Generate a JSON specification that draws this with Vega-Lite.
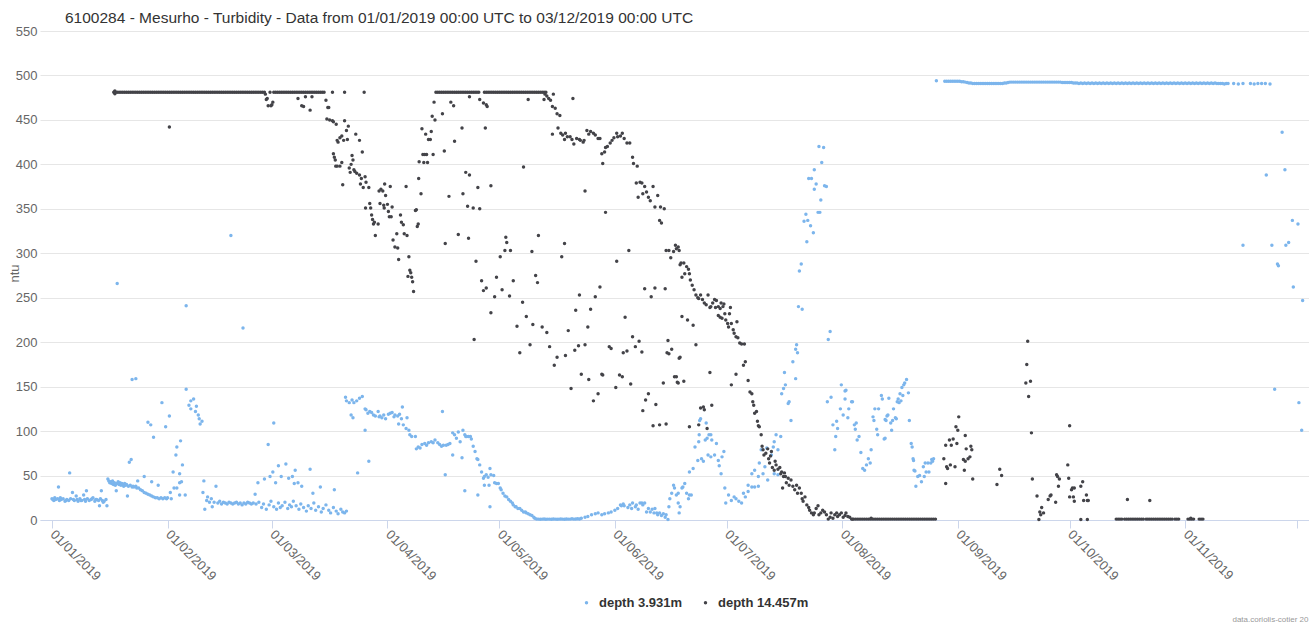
{
"$schema": "https://vega.github.io/schema/vega-lite/v6.json",
"width": 1269, "height": 489,
"autosize": {"type": "none"},
"padding": {"left": 40, "top": 31, "right": 0, "bottom": 104},
"background": "white",
"title": {"text": "6100284 - Mesurho - Turbidity - Data from 01/01/2019 00:00 UTC to 03/12/2019 00:00 UTC", "anchor": "start", "frame": "group", "dx": 25, "offset": -1, "fontSize": 15.5, "font": "Liberation Sans", "fontWeight": "normal", "color": "#333333"},
"datasets": {
"s": [
{"t":"2019-01-01T00:00Z","v":24},{"t":"2019-01-01T06:00Z","v":23},{"t":"2019-01-01T12:00Z","v":22},{"t":"2019-01-01T18:00Z","v":25},{"t":"2019-01-02T00:00Z","v":23},{"t":"2019-01-02T12:00Z","v":24},{"t":"2019-01-02T18:00Z","v":37},{"t":"2019-01-03T00:00Z","v":22},{"t":"2019-01-03T06:00Z","v":25},{"t":"2019-01-03T12:00Z","v":23},{"t":"2019-01-04T00:00Z","v":24},{"t":"2019-01-04T12:00Z","v":21},{"t":"2019-01-04T18:00Z","v":22},{"t":"2019-01-05T00:00Z","v":23},{"t":"2019-01-05T12:00Z","v":22},{"t":"2019-01-05T18:00Z","v":53},{"t":"2019-01-06T00:00Z","v":24},{"t":"2019-01-06T12:00Z","v":31},{"t":"2019-01-06T18:00Z","v":23},{"t":"2019-01-07T00:00Z","v":22},{"t":"2019-01-07T12:00Z","v":27},{"t":"2019-01-07T18:00Z","v":23},{"t":"2019-01-08T00:00Z","v":21},{"t":"2019-01-08T12:00Z","v":24},{"t":"2019-01-08T18:00Z","v":22},{"t":"2019-01-09T00:00Z","v":22},{"t":"2019-01-09T12:00Z","v":28},{"t":"2019-01-09T18:00Z","v":23},{"t":"2019-01-10T00:00Z","v":21},{"t":"2019-01-10T06:00Z","v":33},{"t":"2019-01-10T12:00Z","v":24},{"t":"2019-01-11T00:00Z","v":22},{"t":"2019-01-11T12:00Z","v":23},{"t":"2019-01-11T18:00Z","v":24},{"t":"2019-01-12T00:00Z","v":25},{"t":"2019-01-12T12:00Z","v":21},{"t":"2019-01-12T18:00Z","v":23},{"t":"2019-01-13T00:00Z","v":23},{"t":"2019-01-13T12:00Z","v":22},{"t":"2019-01-13T18:00Z","v":16},{"t":"2019-01-14T00:00Z","v":24},{"t":"2019-01-14T06:00Z","v":33},{"t":"2019-01-14T12:00Z","v":22},{"t":"2019-01-14T18:00Z","v":20},{"t":"2019-01-15T00:00Z","v":21},{"t":"2019-01-15T12:00Z","v":23},{"t":"2019-01-15T18:00Z","v":16},
{"t":"2019-01-16T00:00Z","v":46},{"t":"2019-01-16T06:00Z","v":44},{"t":"2019-01-16T12:00Z","v":42},{"t":"2019-01-16T18:00Z","v":43},{"t":"2019-01-17T00:00Z","v":41},{"t":"2019-01-17T06:00Z","v":44},{"t":"2019-01-17T12:00Z","v":40},{"t":"2019-01-17T18:00Z","v":42},{"t":"2019-01-18T00:00Z","v":39},{"t":"2019-01-18T06:00Z","v":33},{"t":"2019-01-18T12:00Z","v":41},{"t":"2019-01-18T12:00Z","v":266},{"t":"2019-01-18T18:00Z","v":43},{"t":"2019-01-19T00:00Z","v":40},{"t":"2019-01-19T06:00Z","v":42},{"t":"2019-01-19T12:00Z","v":39},{"t":"2019-01-19T18:00Z","v":41},{"t":"2019-01-20T00:00Z","v":40},{"t":"2019-01-20T06:00Z","v":38},{"t":"2019-01-20T12:00Z","v":41},{"t":"2019-01-20T18:00Z","v":39},{"t":"2019-01-21T00:00Z","v":40},{"t":"2019-01-21T06:00Z","v":27},{"t":"2019-01-21T12:00Z","v":38},{"t":"2019-01-21T18:00Z","v":65},{"t":"2019-01-22T00:00Z","v":39},{"t":"2019-01-22T06:00Z","v":68},{"t":"2019-01-22T12:00Z","v":158},{"t":"2019-01-22T12:00Z","v":37},{"t":"2019-01-22T18:00Z","v":38},{"t":"2019-01-23T00:00Z","v":37},{"t":"2019-01-23T12:00Z","v":159},{"t":"2019-01-23T12:00Z","v":38},{"t":"2019-01-23T18:00Z","v":36},{"t":"2019-01-24T00:00Z","v":44},{"t":"2019-01-24T06:00Z","v":36},{"t":"2019-01-24T18:00Z","v":34},{"t":"2019-01-25T06:00Z","v":33},{"t":"2019-01-25T18:00Z","v":49},{"t":"2019-01-25T18:00Z","v":31},{"t":"2019-01-26T06:00Z","v":30},{"t":"2019-01-26T18:00Z","v":110},{"t":"2019-01-26T18:00Z","v":29},{"t":"2019-01-27T06:00Z","v":28},{"t":"2019-01-27T12:00Z","v":107},{"t":"2019-01-27T18:00Z","v":27},{"t":"2019-01-27T18:00Z","v":43},{"t":"2019-01-28T06:00Z","v":93},{"t":"2019-01-28T06:00Z","v":26},{"t":"2019-01-28T18:00Z","v":25},{"t":"2019-01-29T06:00Z","v":25},{"t":"2019-01-29T12:00Z","v":39},{"t":"2019-01-29T18:00Z","v":24},{"t":"2019-01-30T06:00Z","v":25},{"t":"2019-01-30T12:00Z","v":132},{"t":"2019-01-30T18:00Z","v":24},{"t":"2019-01-31T06:00Z","v":25},{"t":"2019-01-31T12:00Z","v":105},{"t":"2019-01-31T18:00Z","v":24},
{"t":"2019-02-01T00:00Z","v":25},{"t":"2019-02-01T12:00Z","v":117},{"t":"2019-02-01T18:00Z","v":31},{"t":"2019-02-02T00:00Z","v":24},{"t":"2019-02-02T12:00Z","v":54},{"t":"2019-02-02T18:00Z","v":36},{"t":"2019-02-03T06:00Z","v":73},{"t":"2019-02-03T12:00Z","v":82},{"t":"2019-02-03T12:00Z","v":36},{"t":"2019-02-04T06:00Z","v":52},{"t":"2019-02-04T06:00Z","v":42},{"t":"2019-02-04T06:00Z","v":28},{"t":"2019-02-04T12:00Z","v":89},{"t":"2019-02-04T18:00Z","v":43},{"t":"2019-02-05T00:00Z","v":62},{"t":"2019-02-05T18:00Z","v":28},{"t":"2019-02-06T00:00Z","v":147},{"t":"2019-02-06T00:00Z","v":241},{"t":"2019-02-06T18:00Z","v":129},{"t":"2019-02-07T06:00Z","v":125},{"t":"2019-02-07T06:00Z","v":134},{"t":"2019-02-08T00:00Z","v":136},{"t":"2019-02-08T12:00Z","v":122},{"t":"2019-02-08T18:00Z","v":128},{"t":"2019-02-09T06:00Z","v":118},{"t":"2019-02-09T12:00Z","v":114},{"t":"2019-02-09T18:00Z","v":108},{"t":"2019-02-10T06:00Z","v":111},{"t":"2019-02-10T12:00Z","v":31},{"t":"2019-02-10T18:00Z","v":44},{"t":"2019-02-11T00:00Z","v":12},{"t":"2019-02-11T12:00Z","v":22},{"t":"2019-02-11T18:00Z","v":26},{"t":"2019-02-12T06:00Z","v":20},{"t":"2019-02-12T18:00Z","v":24},{"t":"2019-02-13T00:00Z","v":15},{"t":"2019-02-13T12:00Z","v":20},{"t":"2019-02-14T00:00Z","v":38},{"t":"2019-02-14T12:00Z","v":19},{"t":"2019-02-15T00:00Z","v":21},{"t":"2019-02-15T12:00Z","v":18},{"t":"2019-02-16T00:00Z","v":20},{"t":"2019-02-16T12:00Z","v":19},{"t":"2019-02-17T00:00Z","v":18},{"t":"2019-02-17T12:00Z","v":20},{"t":"2019-02-18T00:00Z","v":19},{"t":"2019-02-18T00:00Z","v":320},{"t":"2019-02-18T12:00Z","v":18},{"t":"2019-02-19T00:00Z","v":19},{"t":"2019-02-19T12:00Z","v":20},{"t":"2019-02-20T00:00Z","v":18},{"t":"2019-02-20T12:00Z","v":19},{"t":"2019-02-21T00:00Z","v":17},{"t":"2019-02-21T06:00Z","v":216},{"t":"2019-02-21T12:00Z","v":19},{"t":"2019-02-22T00:00Z","v":18},{"t":"2019-02-22T12:00Z","v":20},{"t":"2019-02-23T00:00Z","v":19},{"t":"2019-02-23T12:00Z","v":18},{"t":"2019-02-24T00:00Z","v":19},{"t":"2019-02-24T12:00Z","v":29},{"t":"2019-02-24T18:00Z","v":18},{"t":"2019-02-25T06:00Z","v":42},{"t":"2019-02-25T12:00Z","v":20},{"t":"2019-02-26T06:00Z","v":14},{"t":"2019-02-26T18:00Z","v":18},{"t":"2019-02-27T00:00Z","v":46},{"t":"2019-02-27T12:00Z","v":12},{"t":"2019-02-28T00:00Z","v":85},{"t":"2019-02-28T06:00Z","v":17},{"t":"2019-02-28T12:00Z","v":49},{"t":"2019-02-28T18:00Z","v":21},
{"t":"2019-03-01T06:00Z","v":54},{"t":"2019-03-01T12:00Z","v":15},{"t":"2019-03-01T12:00Z","v":109},{"t":"2019-03-02T00:00Z","v":42},{"t":"2019-03-02T06:00Z","v":12},{"t":"2019-03-02T18:00Z","v":19},{"t":"2019-03-02T18:00Z","v":61},{"t":"2019-03-03T06:00Z","v":14},{"t":"2019-03-03T12:00Z","v":49},{"t":"2019-03-03T18:00Z","v":16},{"t":"2019-03-04T12:00Z","v":20},{"t":"2019-03-04T18:00Z","v":63},{"t":"2019-03-05T06:00Z","v":13},{"t":"2019-03-05T12:00Z","v":47},{"t":"2019-03-05T18:00Z","v":17},{"t":"2019-03-06T06:00Z","v":15},{"t":"2019-03-06T12:00Z","v":49},{"t":"2019-03-06T18:00Z","v":21},{"t":"2019-03-07T00:00Z","v":41},{"t":"2019-03-07T06:00Z","v":56},{"t":"2019-03-07T12:00Z","v":16},{"t":"2019-03-08T00:00Z","v":42},{"t":"2019-03-08T06:00Z","v":12},{"t":"2019-03-08T18:00Z","v":18},{"t":"2019-03-09T00:00Z","v":38},{"t":"2019-03-09T12:00Z","v":14},{"t":"2019-03-10T06:00Z","v":10},{"t":"2019-03-10T18:00Z","v":16},{"t":"2019-03-11T06:00Z","v":57},{"t":"2019-03-11T12:00Z","v":13},{"t":"2019-03-12T00:00Z","v":30},{"t":"2019-03-12T06:00Z","v":19},{"t":"2019-03-12T18:00Z","v":11},{"t":"2019-03-13T12:00Z","v":15},{"t":"2019-03-14T00:00Z","v":37},{"t":"2019-03-14T06:00Z","v":9},{"t":"2019-03-14T18:00Z","v":13},{"t":"2019-03-15T12:00Z","v":17},{"t":"2019-03-16T06:00Z","v":11},{"t":"2019-03-16T18:00Z","v":8},{"t":"2019-03-17T12:00Z","v":14},{"t":"2019-03-17T18:00Z","v":34},{"t":"2019-03-18T06:00Z","v":10},{"t":"2019-03-18T18:00Z","v":7},{"t":"2019-03-19T12:00Z","v":12},{"t":"2019-03-20T00:00Z","v":9},{"t":"2019-03-20T12:00Z","v":8},{"t":"2019-03-20T18:00Z","v":138},{"t":"2019-03-21T00:00Z","v":10},{"t":"2019-03-21T00:00Z","v":134},{"t":"2019-03-21T18:00Z","v":132},{"t":"2019-03-22T06:00Z","v":118},{"t":"2019-03-22T12:00Z","v":135},{"t":"2019-03-22T18:00Z","v":115},{"t":"2019-03-23T00:00Z","v":132},{"t":"2019-03-23T18:00Z","v":134},{"t":"2019-03-24T00:00Z","v":53},{"t":"2019-03-24T12:00Z","v":137},{"t":"2019-03-25T06:00Z","v":139},{"t":"2019-03-26T00:00Z","v":125},{"t":"2019-03-26T00:00Z","v":101},{"t":"2019-03-26T06:00Z","v":124},{"t":"2019-03-26T18:00Z","v":120},{"t":"2019-03-27T00:00Z","v":66},{"t":"2019-03-27T06:00Z","v":122},{"t":"2019-03-27T18:00Z","v":121},{"t":"2019-03-28T06:00Z","v":118},{"t":"2019-03-28T18:00Z","v":117},{"t":"2019-03-29T12:00Z","v":122},{"t":"2019-03-29T18:00Z","v":116},{"t":"2019-03-30T00:00Z","v":117},{"t":"2019-03-30T12:00Z","v":115},{"t":"2019-03-31T00:00Z","v":118},{"t":"2019-03-31T12:00Z","v":114},
{"t":"2019-04-01T06:00Z","v":119},{"t":"2019-04-01T18:00Z","v":120},{"t":"2019-04-02T06:00Z","v":121},{"t":"2019-04-02T18:00Z","v":116},{"t":"2019-04-03T00:00Z","v":118},{"t":"2019-04-03T18:00Z","v":117},{"t":"2019-04-04T00:00Z","v":108},{"t":"2019-04-04T06:00Z","v":119},{"t":"2019-04-04T18:00Z","v":114},{"t":"2019-04-05T00:00Z","v":127},{"t":"2019-04-05T06:00Z","v":107},{"t":"2019-04-06T00:00Z","v":103},{"t":"2019-04-06T06:00Z","v":115},{"t":"2019-04-06T18:00Z","v":101},{"t":"2019-04-07T00:00Z","v":96},{"t":"2019-04-07T12:00Z","v":94},{"t":"2019-04-08T12:00Z","v":94},{"t":"2019-04-08T18:00Z","v":80},{"t":"2019-04-09T06:00Z","v":82},{"t":"2019-04-09T18:00Z","v":81},{"t":"2019-04-10T06:00Z","v":85},{"t":"2019-04-11T00:00Z","v":86},{"t":"2019-04-11T12:00Z","v":84},{"t":"2019-04-12T00:00Z","v":87},{"t":"2019-04-12T18:00Z","v":88},{"t":"2019-04-13T06:00Z","v":87},{"t":"2019-04-13T18:00Z","v":90},{"t":"2019-04-14T12:00Z","v":87},{"t":"2019-04-15T00:00Z","v":85},{"t":"2019-04-15T12:00Z","v":83},{"t":"2019-04-15T18:00Z","v":122},{"t":"2019-04-16T00:00Z","v":84},{"t":"2019-04-16T12:00Z","v":51},{"t":"2019-04-16T18:00Z","v":84},{"t":"2019-04-17T06:00Z","v":85},{"t":"2019-04-17T18:00Z","v":86},{"t":"2019-04-18T12:00Z","v":98},{"t":"2019-04-18T12:00Z","v":73},{"t":"2019-04-19T00:00Z","v":96},{"t":"2019-04-19T12:00Z","v":92},{"t":"2019-04-20T00:00Z","v":99},{"t":"2019-04-20T12:00Z","v":88},{"t":"2019-04-21T00:00Z","v":70},{"t":"2019-04-21T06:00Z","v":101},{"t":"2019-04-21T18:00Z","v":96},{"t":"2019-04-21T18:00Z","v":33},{"t":"2019-04-22T00:00Z","v":94},{"t":"2019-04-22T06:00Z","v":94},{"t":"2019-04-22T18:00Z","v":94},{"t":"2019-04-23T06:00Z","v":94},{"t":"2019-04-23T12:00Z","v":91},{"t":"2019-04-24T00:00Z","v":83},{"t":"2019-04-24T12:00Z","v":77},{"t":"2019-04-25T00:00Z","v":69},{"t":"2019-04-25T06:00Z","v":68},{"t":"2019-04-25T06:00Z","v":28},{"t":"2019-04-25T18:00Z","v":62},{"t":"2019-04-26T06:00Z","v":54},{"t":"2019-04-26T18:00Z","v":47},{"t":"2019-04-27T00:00Z","v":49},{"t":"2019-04-27T00:00Z","v":39},{"t":"2019-04-27T12:00Z","v":51},{"t":"2019-04-28T00:00Z","v":48},{"t":"2019-04-28T06:00Z","v":39},{"t":"2019-04-28T12:00Z","v":58},{"t":"2019-04-28T12:00Z","v":15},{"t":"2019-04-28T18:00Z","v":51},{"t":"2019-04-29T12:00Z","v":50},{"t":"2019-04-29T18:00Z","v":42},{"t":"2019-04-30T06:00Z","v":41},{"t":"2019-04-30T18:00Z","v":41},
{"t":"2019-05-01T06:00Z","v":36},{"t":"2019-05-01T12:00Z","v":34},{"t":"2019-05-02T00:00Z","v":30},{"t":"2019-05-02T12:00Z","v":27},{"t":"2019-05-03T00:00Z","v":26},{"t":"2019-05-03T12:00Z","v":23},{"t":"2019-05-04T00:00Z","v":21},{"t":"2019-05-04T12:00Z","v":19},{"t":"2019-05-04T18:00Z","v":17},{"t":"2019-05-05T06:00Z","v":15},{"t":"2019-05-05T12:00Z","v":15},{"t":"2019-05-06T00:00Z","v":13},{"t":"2019-05-06T12:00Z","v":13},{"t":"2019-05-07T00:00Z","v":11},{"t":"2019-05-07T12:00Z","v":9},{"t":"2019-05-08T00:00Z","v":9},{"t":"2019-05-08T06:00Z","v":8},{"t":"2019-05-08T18:00Z","v":7},{"t":"2019-05-09T06:00Z","v":6},{"t":"2019-05-09T18:00Z","v":5},{"t":"2019-05-10T06:00Z","v":3},{"t":"2019-05-10T12:00Z","v":2},{"t":"2019-05-11T00:00Z","v":1.2},{"t":"2019-05-11T12:00Z","v":1},{"t":"2019-05-12T00:00Z","v":0.8},{"t":"2019-05-12T12:00Z","v":1},{"t":"2019-05-13T00:00Z","v":1.2},{"t":"2019-05-13T12:00Z","v":0.8},{"t":"2019-05-14T00:00Z","v":1},{"t":"2019-05-14T12:00Z","v":1},{"t":"2019-05-15T00:00Z","v":0.8},{"t":"2019-05-15T12:00Z","v":1.2},{"t":"2019-05-16T00:00Z","v":1},{"t":"2019-05-16T12:00Z","v":0.8},{"t":"2019-05-17T00:00Z","v":1},{"t":"2019-05-17T12:00Z","v":1.2},{"t":"2019-05-18T00:00Z","v":1},{"t":"2019-05-18T12:00Z","v":0.8},{"t":"2019-05-19T00:00Z","v":1.2},{"t":"2019-05-19T12:00Z","v":1},{"t":"2019-05-20T00:00Z","v":1},{"t":"2019-05-20T12:00Z","v":1.5},{"t":"2019-05-21T00:00Z","v":1},{"t":"2019-05-21T12:00Z","v":1.2},{"t":"2019-05-22T00:00Z","v":1.5},{"t":"2019-05-22T12:00Z","v":1.2},{"t":"2019-05-23T00:00Z","v":2},{"t":"2019-05-24T00:00Z","v":3},{"t":"2019-05-24T18:00Z","v":4},{"t":"2019-05-25T18:00Z","v":6},{"t":"2019-05-26T18:00Z","v":7},{"t":"2019-05-27T12:00Z","v":8},{"t":"2019-05-28T12:00Z","v":6},{"t":"2019-05-29T06:00Z","v":7},{"t":"2019-05-30T06:00Z","v":8},{"t":"2019-05-31T00:00Z","v":9},
{"t":"2019-06-01T00:00Z","v":11},{"t":"2019-06-01T18:00Z","v":13},{"t":"2019-06-02T12:00Z","v":17},{"t":"2019-06-02T18:00Z","v":16},{"t":"2019-06-03T06:00Z","v":18},{"t":"2019-06-03T12:00Z","v":16},{"t":"2019-06-04T12:00Z","v":14},{"t":"2019-06-05T00:00Z","v":17},{"t":"2019-06-05T12:00Z","v":13},{"t":"2019-06-05T18:00Z","v":19},{"t":"2019-06-06T12:00Z","v":15},{"t":"2019-06-06T18:00Z","v":17},{"t":"2019-06-07T06:00Z","v":12},{"t":"2019-06-07T18:00Z","v":19},{"t":"2019-06-08T06:00Z","v":19},{"t":"2019-06-08T12:00Z","v":17},{"t":"2019-06-09T00:00Z","v":19},{"t":"2019-06-09T12:00Z","v":9},{"t":"2019-06-10T00:00Z","v":13},{"t":"2019-06-10T12:00Z","v":9},{"t":"2019-06-11T00:00Z","v":12},{"t":"2019-06-11T12:00Z","v":8},{"t":"2019-06-11T18:00Z","v":13},{"t":"2019-06-12T06:00Z","v":8},{"t":"2019-06-12T12:00Z","v":6},{"t":"2019-06-13T00:00Z","v":8},{"t":"2019-06-13T12:00Z","v":5},{"t":"2019-06-14T00:00Z","v":7},{"t":"2019-06-14T12:00Z","v":3},{"t":"2019-06-14T18:00Z","v":6},{"t":"2019-06-15T06:00Z","v":0.5},{"t":"2019-06-15T12:00Z","v":15},{"t":"2019-06-15T18:00Z","v":24},{"t":"2019-06-16T06:00Z","v":30},{"t":"2019-06-16T18:00Z","v":39},{"t":"2019-06-17T00:00Z","v":36},{"t":"2019-06-17T12:00Z","v":28},{"t":"2019-06-18T00:00Z","v":19},{"t":"2019-06-18T00:00Z","v":30},{"t":"2019-06-18T06:00Z","v":8},{"t":"2019-06-18T12:00Z","v":15},{"t":"2019-06-19T00:00Z","v":36},{"t":"2019-06-19T06:00Z","v":37},{"t":"2019-06-19T18:00Z","v":41},{"t":"2019-06-20T06:00Z","v":30},{"t":"2019-06-20T18:00Z","v":24},{"t":"2019-06-21T00:00Z","v":28},{"t":"2019-06-21T00:00Z","v":54},{"t":"2019-06-21T12:00Z","v":28},{"t":"2019-06-22T00:00Z","v":58},{"t":"2019-06-22T12:00Z","v":82},{"t":"2019-06-23T06:00Z","v":67},{"t":"2019-06-23T12:00Z","v":88},{"t":"2019-06-23T15:00Z","v":96},{"t":"2019-06-23T18:00Z","v":112},{"t":"2019-06-24T00:00Z","v":114},{"t":"2019-06-24T06:00Z","v":69},{"t":"2019-06-24T18:00Z","v":66},{"t":"2019-06-25T06:00Z","v":90},{"t":"2019-06-25T12:00Z","v":109},{"t":"2019-06-25T18:00Z","v":92},{"t":"2019-06-26T00:00Z","v":73},{"t":"2019-06-26T06:00Z","v":96},{"t":"2019-06-26T18:00Z","v":96},{"t":"2019-06-26T18:00Z","v":71},{"t":"2019-06-27T00:00Z","v":90},{"t":"2019-06-27T18:00Z","v":73},{"t":"2019-06-28T06:00Z","v":86},{"t":"2019-06-28T18:00Z","v":67},{"t":"2019-06-29T00:00Z","v":61},{"t":"2019-06-29T12:00Z","v":52},{"t":"2019-06-29T18:00Z","v":71},{"t":"2019-06-30T06:00Z","v":77},{"t":"2019-06-30T12:00Z","v":36},{"t":"2019-06-30T18:00Z","v":19},
{"t":"2019-07-01T12:00Z","v":28},{"t":"2019-07-02T06:00Z","v":22},{"t":"2019-07-03T00:00Z","v":26},{"t":"2019-07-03T12:00Z","v":24},{"t":"2019-07-04T06:00Z","v":21},{"t":"2019-07-05T00:00Z","v":19},{"t":"2019-07-05T12:00Z","v":30},{"t":"2019-07-06T00:00Z","v":26},{"t":"2019-07-06T18:00Z","v":32},{"t":"2019-07-06T18:00Z","v":39},{"t":"2019-07-07T18:00Z","v":37},{"t":"2019-07-07T18:00Z","v":52},{"t":"2019-07-08T12:00Z","v":37},{"t":"2019-07-08T12:00Z","v":56},{"t":"2019-07-09T12:00Z","v":38},{"t":"2019-07-09T12:00Z","v":49},{"t":"2019-07-09T18:00Z","v":64},{"t":"2019-07-10T06:00Z","v":79},{"t":"2019-07-10T18:00Z","v":52},{"t":"2019-07-11T06:00Z","v":60},{"t":"2019-07-11T18:00Z","v":81},{"t":"2019-07-12T00:00Z","v":45},{"t":"2019-07-13T00:00Z","v":73},{"t":"2019-07-13T12:00Z","v":82},{"t":"2019-07-13T18:00Z","v":88},{"t":"2019-07-13T18:00Z","v":52},{"t":"2019-07-14T06:00Z","v":96},{"t":"2019-07-14T18:00Z","v":51},{"t":"2019-07-14T18:00Z","v":79},{"t":"2019-07-15T12:00Z","v":94},{"t":"2019-07-15T18:00Z","v":142},{"t":"2019-07-16T06:00Z","v":148},{"t":"2019-07-16T12:00Z","v":166},{"t":"2019-07-16T18:00Z","v":152},{"t":"2019-07-17T12:00Z","v":131},{"t":"2019-07-17T18:00Z","v":133},{"t":"2019-07-18T06:00Z","v":112},{"t":"2019-07-18T18:00Z","v":178},{"t":"2019-07-19T12:00Z","v":159},{"t":"2019-07-19T12:00Z","v":192},{"t":"2019-07-19T18:00Z","v":197},{"t":"2019-07-20T00:00Z","v":188},{"t":"2019-07-20T06:00Z","v":240},{"t":"2019-07-20T12:00Z","v":280},{"t":"2019-07-21T00:00Z","v":288},{"t":"2019-07-21T06:00Z","v":237},{"t":"2019-07-21T18:00Z","v":336},{"t":"2019-07-22T06:00Z","v":344},{"t":"2019-07-22T12:00Z","v":313},{"t":"2019-07-22T18:00Z","v":337},{"t":"2019-07-23T00:00Z","v":384},{"t":"2019-07-23T12:00Z","v":331},{"t":"2019-07-23T18:00Z","v":384},{"t":"2019-07-24T06:00Z","v":323},{"t":"2019-07-24T12:00Z","v":372},{"t":"2019-07-24T12:00Z","v":394},{"t":"2019-07-25T00:00Z","v":378},{"t":"2019-07-25T12:00Z","v":346},{"t":"2019-07-25T18:00Z","v":420},{"t":"2019-07-26T00:00Z","v":346},{"t":"2019-07-26T06:00Z","v":360},{"t":"2019-07-26T12:00Z","v":402},{"t":"2019-07-27T00:00Z","v":419},{"t":"2019-07-27T06:00Z","v":376},{"t":"2019-07-27T18:00Z","v":375},{"t":"2019-07-28T00:00Z","v":133},{"t":"2019-07-28T06:00Z","v":203},{"t":"2019-07-28T18:00Z","v":212},{"t":"2019-07-29T00:00Z","v":138},{"t":"2019-07-29T12:00Z","v":107},{"t":"2019-07-30T00:00Z","v":79},{"t":"2019-07-30T06:00Z","v":94},{"t":"2019-07-30T12:00Z","v":111},{"t":"2019-07-30T18:00Z","v":103},{"t":"2019-07-31T12:00Z","v":125},{"t":"2019-07-31T18:00Z","v":152},
{"t":"2019-08-01T06:00Z","v":118},{"t":"2019-08-01T18:00Z","v":145},{"t":"2019-08-01T18:00Z","v":136},{"t":"2019-08-02T00:00Z","v":146},{"t":"2019-08-02T12:00Z","v":115},{"t":"2019-08-02T18:00Z","v":125},{"t":"2019-08-03T12:00Z","v":133},{"t":"2019-08-03T18:00Z","v":133},{"t":"2019-08-04T06:00Z","v":107},{"t":"2019-08-04T12:00Z","v":102},{"t":"2019-08-04T18:00Z","v":109},{"t":"2019-08-05T00:00Z","v":90},{"t":"2019-08-05T12:00Z","v":94},{"t":"2019-08-06T00:00Z","v":76},{"t":"2019-08-06T12:00Z","v":58},{"t":"2019-08-07T00:00Z","v":56},{"t":"2019-08-07T12:00Z","v":62},{"t":"2019-08-08T00:00Z","v":69},{"t":"2019-08-08T12:00Z","v":64},{"t":"2019-08-08T18:00Z","v":79},{"t":"2019-08-09T06:00Z","v":116},{"t":"2019-08-09T12:00Z","v":112},{"t":"2019-08-09T18:00Z","v":125},{"t":"2019-08-10T06:00Z","v":102},{"t":"2019-08-10T12:00Z","v":96},{"t":"2019-08-10T18:00Z","v":125},{"t":"2019-08-11T12:00Z","v":140},{"t":"2019-08-11T18:00Z","v":136},{"t":"2019-08-12T06:00Z","v":91},{"t":"2019-08-12T12:00Z","v":113},{"t":"2019-08-12T12:00Z","v":92},{"t":"2019-08-12T18:00Z","v":112},{"t":"2019-08-13T00:00Z","v":117},{"t":"2019-08-13T06:00Z","v":118},{"t":"2019-08-13T12:00Z","v":137},{"t":"2019-08-14T00:00Z","v":109},{"t":"2019-08-14T06:00Z","v":101},{"t":"2019-08-14T12:00Z","v":112},{"t":"2019-08-14T18:00Z","v":125},{"t":"2019-08-15T06:00Z","v":115},{"t":"2019-08-15T12:00Z","v":114},{"t":"2019-08-15T18:00Z","v":133},{"t":"2019-08-16T00:00Z","v":136},{"t":"2019-08-16T06:00Z","v":132},{"t":"2019-08-16T12:00Z","v":142},{"t":"2019-08-16T18:00Z","v":134},{"t":"2019-08-17T00:00Z","v":149},{"t":"2019-08-17T06:00Z","v":140},{"t":"2019-08-17T12:00Z","v":152},{"t":"2019-08-17T18:00Z","v":154},{"t":"2019-08-18T06:00Z","v":158},{"t":"2019-08-18T18:00Z","v":143},{"t":"2019-08-19T00:00Z","v":112},{"t":"2019-08-19T12:00Z","v":86},{"t":"2019-08-19T18:00Z","v":82},{"t":"2019-08-20T00:00Z","v":69},{"t":"2019-08-20T03:00Z","v":67},{"t":"2019-08-20T06:00Z","v":56},{"t":"2019-08-20T12:00Z","v":55},{"t":"2019-08-20T18:00Z","v":38},{"t":"2019-08-21T06:00Z","v":49},{"t":"2019-08-21T18:00Z","v":50},{"t":"2019-08-22T06:00Z","v":43},{"t":"2019-08-22T18:00Z","v":60},{"t":"2019-08-23T00:00Z","v":49},{"t":"2019-08-23T06:00Z","v":64},{"t":"2019-08-23T12:00Z","v":54},{"t":"2019-08-24T00:00Z","v":64},{"t":"2019-08-24T06:00Z","v":54},{"t":"2019-08-24T18:00Z","v":64},{"t":"2019-08-25T00:00Z","v":68},{"t":"2019-08-25T06:00Z","v":66},{"t":"2019-08-25T12:00Z","v":69},{"t":"2019-08-26T06:00Z","v":494},
{"t":"2019-08-28T12:00Z","v":493.5},{"t":"2019-08-29T00:00Z","v":493.5},{"t":"2019-08-29T12:00Z","v":493.5},{"t":"2019-08-30T00:00Z","v":493.5},{"t":"2019-08-30T12:00Z","v":493.5},{"t":"2019-08-31T00:00Z","v":493.5},{"t":"2019-08-31T12:00Z","v":493.5},{"t":"2019-09-01T00:00Z","v":493.5},{"t":"2019-09-01T12:00Z","v":493.5},{"t":"2019-09-02T00:00Z","v":493},{"t":"2019-09-02T12:00Z","v":493},{"t":"2019-09-03T00:00Z","v":492.5},{"t":"2019-09-03T12:00Z","v":492},{"t":"2019-09-04T00:00Z","v":491.5},{"t":"2019-09-04T12:00Z","v":491.5},{"t":"2019-09-05T00:00Z","v":491},{"t":"2019-09-05T12:00Z","v":491},{"t":"2019-09-06T00:00Z","v":491},{"t":"2019-09-06T12:00Z","v":491},{"t":"2019-09-07T00:00Z","v":491},{"t":"2019-09-07T12:00Z","v":491},{"t":"2019-09-08T00:00Z","v":491},{"t":"2019-09-08T12:00Z","v":491},{"t":"2019-09-09T00:00Z","v":491},{"t":"2019-09-09T12:00Z","v":491},{"t":"2019-09-10T00:00Z","v":491},{"t":"2019-09-10T12:00Z","v":491},{"t":"2019-09-11T00:00Z","v":491},{"t":"2019-09-11T12:00Z","v":491},{"t":"2019-09-12T00:00Z","v":491},{"t":"2019-09-12T12:00Z","v":491},{"t":"2019-09-13T00:00Z","v":491},{"t":"2019-09-13T12:00Z","v":491.5},{"t":"2019-09-14T00:00Z","v":491.5},{"t":"2019-09-14T12:00Z","v":492},{"t":"2019-09-15T00:00Z","v":492.5},{"t":"2019-09-15T12:00Z","v":492.5},{"t":"2019-09-16T00:00Z","v":492.5},{"t":"2019-09-16T12:00Z","v":492.5},{"t":"2019-09-17T00:00Z","v":492.5},{"t":"2019-09-17T12:00Z","v":492.5},{"t":"2019-09-18T00:00Z","v":492.5},{"t":"2019-09-18T12:00Z","v":492.5},{"t":"2019-09-19T00:00Z","v":492.5},{"t":"2019-09-19T12:00Z","v":492.5},{"t":"2019-09-20T00:00Z","v":492.5},{"t":"2019-09-20T12:00Z","v":492.5},{"t":"2019-09-21T00:00Z","v":492.5},{"t":"2019-09-21T12:00Z","v":492.5},{"t":"2019-09-22T00:00Z","v":492.5},{"t":"2019-09-22T12:00Z","v":492.5},{"t":"2019-09-23T00:00Z","v":492.5},{"t":"2019-09-23T12:00Z","v":492.5},{"t":"2019-09-24T00:00Z","v":492.5},{"t":"2019-09-24T12:00Z","v":492.5},{"t":"2019-09-25T00:00Z","v":492.5},{"t":"2019-09-25T12:00Z","v":492.5},{"t":"2019-09-26T00:00Z","v":492.5},{"t":"2019-09-26T12:00Z","v":492.5},{"t":"2019-09-27T00:00Z","v":492.5},{"t":"2019-09-27T12:00Z","v":492.5},{"t":"2019-09-28T00:00Z","v":492.5},{"t":"2019-09-28T12:00Z","v":492.5},{"t":"2019-09-29T00:00Z","v":492},{"t":"2019-09-29T12:00Z","v":492},{"t":"2019-09-30T00:00Z","v":492},{"t":"2019-09-30T12:00Z","v":492},{"t":"2019-10-01T00:00Z","v":492},{"t":"2019-10-01T12:00Z","v":492},{"t":"2019-10-02T00:00Z","v":491.5},{"t":"2019-10-02T12:00Z","v":491.5},{"t":"2019-10-03T00:00Z","v":491.5},{"t":"2019-10-03T12:00Z","v":491},{"t":"2019-10-04T00:00Z","v":491.5},{"t":"2019-10-04T12:00Z","v":491},{"t":"2019-10-05T00:00Z","v":491.5},{"t":"2019-10-05T12:00Z","v":491},{"t":"2019-10-06T00:00Z","v":491.5},{"t":"2019-10-06T12:00Z","v":491},{"t":"2019-10-07T00:00Z","v":491.5},{"t":"2019-10-07T12:00Z","v":491},{"t":"2019-10-08T00:00Z","v":491.5},{"t":"2019-10-08T12:00Z","v":491},{"t":"2019-10-09T00:00Z","v":491.5},{"t":"2019-10-09T12:00Z","v":491},{"t":"2019-10-10T00:00Z","v":491.5},{"t":"2019-10-10T12:00Z","v":491},{"t":"2019-10-11T00:00Z","v":491.5},{"t":"2019-10-11T12:00Z","v":491},{"t":"2019-10-12T00:00Z","v":491.5},{"t":"2019-10-12T12:00Z","v":491},{"t":"2019-10-13T00:00Z","v":491.5},{"t":"2019-10-13T12:00Z","v":491},{"t":"2019-10-14T00:00Z","v":491.5},{"t":"2019-10-14T12:00Z","v":491},{"t":"2019-10-15T00:00Z","v":491.5},{"t":"2019-10-15T12:00Z","v":491},{"t":"2019-10-16T00:00Z","v":491.5},{"t":"2019-10-16T12:00Z","v":491},{"t":"2019-10-17T00:00Z","v":491.5},{"t":"2019-10-17T12:00Z","v":491},{"t":"2019-10-18T00:00Z","v":491.5},{"t":"2019-10-18T12:00Z","v":491},{"t":"2019-10-19T00:00Z","v":491.5},{"t":"2019-10-19T12:00Z","v":491},{"t":"2019-10-20T00:00Z","v":491.5},{"t":"2019-10-20T12:00Z","v":491},{"t":"2019-10-21T00:00Z","v":491.5},{"t":"2019-10-21T12:00Z","v":491},{"t":"2019-10-22T00:00Z","v":491.5},{"t":"2019-10-22T12:00Z","v":491},{"t":"2019-10-23T00:00Z","v":491.5},{"t":"2019-10-23T12:00Z","v":491},{"t":"2019-10-24T00:00Z","v":491.5},{"t":"2019-10-24T12:00Z","v":491},{"t":"2019-10-25T00:00Z","v":491.5},{"t":"2019-10-25T12:00Z","v":491},{"t":"2019-10-26T00:00Z","v":491.5},{"t":"2019-10-26T12:00Z","v":491},{"t":"2019-10-27T00:00Z","v":491.5},{"t":"2019-10-27T12:00Z","v":491},{"t":"2019-10-28T00:00Z","v":491.5},{"t":"2019-10-28T12:00Z","v":491},{"t":"2019-10-29T00:00Z","v":491.5},{"t":"2019-10-29T12:00Z","v":491},{"t":"2019-10-30T00:00Z","v":491.5},{"t":"2019-10-30T12:00Z","v":491},{"t":"2019-10-31T00:00Z","v":491.5},{"t":"2019-10-31T12:00Z","v":491},{"t":"2019-11-01T00:00Z","v":491.5},{"t":"2019-11-01T12:00Z","v":491},{"t":"2019-11-02T00:00Z","v":491.5},{"t":"2019-11-02T12:00Z","v":491},{"t":"2019-11-03T00:00Z","v":491.5},{"t":"2019-11-03T12:00Z","v":491},{"t":"2019-11-04T00:00Z","v":491.5},{"t":"2019-11-04T12:00Z","v":491},{"t":"2019-11-05T00:00Z","v":491.5},{"t":"2019-11-05T12:00Z","v":491},{"t":"2019-11-06T00:00Z","v":491.5},{"t":"2019-11-06T12:00Z","v":491},{"t":"2019-11-07T00:00Z","v":491.5},{"t":"2019-11-07T12:00Z","v":491},{"t":"2019-11-08T00:00Z","v":491.5},{"t":"2019-11-08T12:00Z","v":491},{"t":"2019-11-09T00:00Z","v":491.5},{"t":"2019-11-09T12:00Z","v":491},{"t":"2019-11-10T00:00Z","v":491},{"t":"2019-11-10T12:00Z","v":491},{"t":"2019-11-11T00:00Z","v":491},{"t":"2019-11-11T12:00Z","v":490.5},{"t":"2019-11-12T00:00Z","v":491},{"t":"2019-11-12T12:00Z","v":491},{"t":"2019-11-14T00:00Z","v":491},{"t":"2019-11-15T06:00Z","v":490.5},{"t":"2019-11-16T12:00Z","v":491},{"t":"2019-11-18T12:00Z","v":491},{"t":"2019-11-19T12:00Z","v":490.5},{"t":"2019-11-20T12:00Z","v":491},{"t":"2019-11-21T12:00Z","v":491},{"t":"2019-11-22T12:00Z","v":491},{"t":"2019-11-23T18:00Z","v":490.5},
{"t":"2019-11-16T12:00Z","v":309},{"t":"2019-11-22T18:00Z","v":388},{"t":"2019-11-24T06:00Z","v":309},{"t":"2019-11-25T00:00Z","v":147},{"t":"2019-11-25T18:00Z","v":288},{"t":"2019-11-26T00:00Z","v":286},{"t":"2019-11-27T00:00Z","v":436},{"t":"2019-11-27T18:00Z","v":394},{"t":"2019-11-28T00:00Z","v":309},{"t":"2019-11-28T18:00Z","v":312},{"t":"2019-11-29T18:00Z","v":337},{"t":"2019-11-30T00:00Z","v":262},{"t":"2019-12-01T06:00Z","v":333},{"t":"2019-12-01T12:00Z","v":132},{"t":"2019-12-02T06:00Z","v":101},{"t":"2019-12-02T12:00Z","v":247}
],
"d": [
{"t":"2019-01-17T14:00Z","v":481},{"t":"2019-01-17T18:00Z","v":481},{"t":"2019-01-17T20:00Z","v":481},{"t":"2019-01-17T21:00Z","v":479.5},{"t":"2019-01-17T21:00Z","v":482.5},{"t":"2019-01-17T22:00Z","v":481},
{"t":"2019-01-18T00:00Z","v":481},{"t":"2019-01-18T12:00Z","v":481},{"t":"2019-01-19T00:00Z","v":481},{"t":"2019-01-19T12:00Z","v":481},{"t":"2019-01-20T00:00Z","v":481},{"t":"2019-01-20T12:00Z","v":481},{"t":"2019-01-21T00:00Z","v":481},{"t":"2019-01-21T12:00Z","v":481},{"t":"2019-01-22T00:00Z","v":481},{"t":"2019-01-22T12:00Z","v":481},{"t":"2019-01-23T00:00Z","v":481},{"t":"2019-01-23T12:00Z","v":481},{"t":"2019-01-24T00:00Z","v":481},{"t":"2019-01-24T12:00Z","v":481},{"t":"2019-01-25T00:00Z","v":481},{"t":"2019-01-25T12:00Z","v":481},{"t":"2019-01-26T00:00Z","v":481},{"t":"2019-01-26T12:00Z","v":481},{"t":"2019-01-27T00:00Z","v":481},{"t":"2019-01-27T12:00Z","v":481},{"t":"2019-01-28T00:00Z","v":481},{"t":"2019-01-28T12:00Z","v":481},{"t":"2019-01-29T00:00Z","v":481},{"t":"2019-01-29T12:00Z","v":481},{"t":"2019-01-30T00:00Z","v":481},{"t":"2019-01-30T12:00Z","v":481},{"t":"2019-01-31T00:00Z","v":481},{"t":"2019-01-31T12:00Z","v":481},{"t":"2019-02-01T00:00Z","v":481},{"t":"2019-02-01T12:00Z","v":481},{"t":"2019-02-02T00:00Z","v":481},{"t":"2019-02-02T12:00Z","v":481},{"t":"2019-02-03T00:00Z","v":481},{"t":"2019-02-03T12:00Z","v":481},{"t":"2019-02-04T00:00Z","v":481},{"t":"2019-02-04T12:00Z","v":481},{"t":"2019-02-05T00:00Z","v":481},{"t":"2019-02-05T12:00Z","v":481},{"t":"2019-02-06T00:00Z","v":481},{"t":"2019-02-06T12:00Z","v":481},{"t":"2019-02-07T00:00Z","v":481},{"t":"2019-02-07T12:00Z","v":481},{"t":"2019-02-08T00:00Z","v":481},{"t":"2019-02-08T12:00Z","v":481},{"t":"2019-02-09T00:00Z","v":481},{"t":"2019-02-09T12:00Z","v":481},{"t":"2019-02-10T00:00Z","v":481},{"t":"2019-02-10T12:00Z","v":481},{"t":"2019-02-11T00:00Z","v":481},{"t":"2019-02-11T12:00Z","v":481},{"t":"2019-02-12T00:00Z","v":481},{"t":"2019-02-12T12:00Z","v":481},{"t":"2019-02-13T00:00Z","v":481},{"t":"2019-02-13T12:00Z","v":481},{"t":"2019-02-14T00:00Z","v":481},{"t":"2019-02-14T12:00Z","v":481},{"t":"2019-02-15T00:00Z","v":481},{"t":"2019-02-15T12:00Z","v":481},{"t":"2019-02-16T00:00Z","v":481},{"t":"2019-02-16T12:00Z","v":481},{"t":"2019-02-17T00:00Z","v":481},{"t":"2019-02-17T12:00Z","v":481},{"t":"2019-02-18T00:00Z","v":481},{"t":"2019-02-18T12:00Z","v":481},{"t":"2019-02-19T00:00Z","v":481},{"t":"2019-02-19T12:00Z","v":481},{"t":"2019-02-20T00:00Z","v":481},{"t":"2019-02-20T12:00Z","v":481},{"t":"2019-02-21T00:00Z","v":481},{"t":"2019-02-21T12:00Z","v":481},{"t":"2019-02-22T00:00Z","v":481},{"t":"2019-02-22T12:00Z","v":481},{"t":"2019-02-23T00:00Z","v":481},{"t":"2019-02-23T12:00Z","v":481},{"t":"2019-02-24T00:00Z","v":481},{"t":"2019-02-24T12:00Z","v":481},{"t":"2019-02-25T00:00Z","v":481},{"t":"2019-02-25T12:00Z","v":481},{"t":"2019-02-26T00:00Z","v":481},{"t":"2019-02-26T12:00Z","v":481},{"t":"2019-02-27T00:00Z","v":481},{"t":"2019-02-28T12:00Z","v":481},{"t":"2019-03-01T12:00Z","v":481},{"t":"2019-03-02T00:00Z","v":481},{"t":"2019-03-02T12:00Z","v":481},{"t":"2019-03-03T00:00Z","v":481},{"t":"2019-03-03T12:00Z","v":481},{"t":"2019-03-04T00:00Z","v":481},{"t":"2019-03-04T12:00Z","v":481},{"t":"2019-03-05T00:00Z","v":481},{"t":"2019-03-05T12:00Z","v":481},{"t":"2019-03-06T00:00Z","v":481},{"t":"2019-03-06T12:00Z","v":481},{"t":"2019-03-07T00:00Z","v":481},{"t":"2019-03-07T12:00Z","v":481},{"t":"2019-03-08T00:00Z","v":481},{"t":"2019-03-08T12:00Z","v":481},{"t":"2019-03-09T00:00Z","v":481},{"t":"2019-03-09T12:00Z","v":481},{"t":"2019-03-10T00:00Z","v":481},{"t":"2019-03-10T12:00Z","v":481},{"t":"2019-03-11T00:00Z","v":481},{"t":"2019-03-11T12:00Z","v":481},{"t":"2019-03-12T00:00Z","v":481},{"t":"2019-03-12T12:00Z","v":481},{"t":"2019-03-13T00:00Z","v":481},{"t":"2019-03-13T12:00Z","v":481},{"t":"2019-03-14T00:00Z","v":481},{"t":"2019-03-14T12:00Z","v":481},{"t":"2019-03-15T00:00Z","v":481},
{"t":"2019-02-01T12:00Z","v":442},{"t":"2019-02-27T06:00Z","v":479},{"t":"2019-02-27T12:00Z","v":473},{"t":"2019-02-27T18:00Z","v":474},{"t":"2019-02-28T00:00Z","v":466},{"t":"2019-02-28T18:00Z","v":466},{"t":"2019-03-01T00:00Z","v":467},{"t":"2019-03-01T06:00Z","v":470},{"t":"2019-03-08T00:00Z","v":474},{"t":"2019-03-09T00:00Z","v":466},{"t":"2019-03-09T12:00Z","v":465},{"t":"2019-03-10T00:00Z","v":476},{"t":"2019-03-11T06:00Z","v":461},{"t":"2019-03-11T18:00Z","v":476},{"t":"2019-03-15T12:00Z","v":472},{"t":"2019-03-16T00:00Z","v":464},{"t":"2019-03-16T06:00Z","v":464},{"t":"2019-03-17T06:00Z","v":481},{"t":"2019-03-20T12:00Z","v":481},{"t":"2019-03-25T18:00Z","v":481},
{"t":"2019-03-15T18:00Z","v":451},{"t":"2019-03-16T12:00Z","v":450},{"t":"2019-03-17T06:00Z","v":449},{"t":"2019-03-17T12:00Z","v":448},{"t":"2019-03-18T06:00Z","v":445},{"t":"2019-03-20T12:00Z","v":449},{"t":"2019-03-21T12:00Z","v":443},{"t":"2019-03-21T00:00Z","v":438},{"t":"2019-03-20T06:00Z","v":427},{"t":"2019-03-21T06:00Z","v":428},{"t":"2019-03-18T12:00Z","v":427},{"t":"2019-03-18T18:00Z","v":425},{"t":"2019-03-19T06:00Z","v":430},{"t":"2019-03-19T18:00Z","v":432},{"t":"2019-03-23T12:00Z","v":434},{"t":"2019-03-24T12:00Z","v":427},{"t":"2019-03-25T06:00Z","v":414},{"t":"2019-03-17T12:00Z","v":412},{"t":"2019-03-17T18:00Z","v":408},{"t":"2019-03-18T00:00Z","v":405},{"t":"2019-03-18T03:00Z","v":398},{"t":"2019-03-18T12:00Z","v":398},{"t":"2019-03-19T06:00Z","v":398},{"t":"2019-03-19T18:00Z","v":402},{"t":"2019-03-22T12:00Z","v":410},{"t":"2019-03-22T18:00Z","v":405},{"t":"2019-03-22T06:00Z","v":400},{"t":"2019-03-21T18:00Z","v":396},{"t":"2019-03-23T00:00Z","v":394},{"t":"2019-03-23T06:00Z","v":392},{"t":"2019-03-22T00:00Z","v":391},{"t":"2019-03-23T18:00Z","v":390},{"t":"2019-03-24T12:00Z","v":388},{"t":"2019-03-20T00:00Z","v":377},{"t":"2019-03-25T00:00Z","v":384},{"t":"2019-03-26T00:00Z","v":386},{"t":"2019-03-26T06:00Z","v":380},{"t":"2019-03-27T00:00Z","v":374},{"t":"2019-03-24T18:00Z","v":378},{"t":"2019-03-25T12:00Z","v":374},{"t":"2019-03-26T03:00Z","v":351},{"t":"2019-03-27T06:00Z","v":356},{"t":"2019-03-27T12:00Z","v":351},{"t":"2019-03-27T18:00Z","v":343},{"t":"2019-03-28T00:00Z","v":338},{"t":"2019-03-28T06:00Z","v":333},{"t":"2019-03-28T12:00Z","v":335},{"t":"2019-03-29T12:00Z","v":333},{"t":"2019-03-28T18:00Z","v":320},{"t":"2019-03-29T18:00Z","v":370},{"t":"2019-03-30T06:00Z","v":372},{"t":"2019-03-31T06:00Z","v":378},{"t":"2019-03-30T18:00Z","v":370},{"t":"2019-03-31T12:00Z","v":365},{"t":"2019-04-01T18:00Z","v":375},{"t":"2019-03-30T00:00Z","v":356},{"t":"2019-03-31T00:00Z","v":354},{"t":"2019-03-31T03:00Z","v":351},{"t":"2019-04-01T00:00Z","v":355},{"t":"2019-04-01T06:00Z","v":347},{"t":"2019-04-01T12:00Z","v":341},{"t":"2019-04-02T00:00Z","v":341},{"t":"2019-04-02T06:00Z","v":352},{"t":"2019-04-02T12:00Z","v":315},{"t":"2019-04-03T00:00Z","v":307},{"t":"2019-04-03T18:00Z","v":306},{"t":"2019-04-03T12:00Z","v":322},{"t":"2019-04-04T12:00Z","v":343},{"t":"2019-04-05T06:00Z","v":332},{"t":"2019-04-04T18:00Z","v":335},{"t":"2019-04-05T12:00Z","v":322},{"t":"2019-04-06T06:00Z","v":320},{"t":"2019-04-04T00:00Z","v":293},{"t":"2019-04-06T18:00Z","v":296},{"t":"2019-04-07T00:00Z","v":281},{"t":"2019-04-07T06:00Z","v":278},{"t":"2019-04-06T12:00Z","v":274},{"t":"2019-04-07T12:00Z","v":273},{"t":"2019-04-07T18:00Z","v":268},{"t":"2019-04-08T00:00Z","v":257},{"t":"2019-04-06T00:00Z","v":375},{"t":"2019-04-08T12:00Z","v":348},{"t":"2019-04-08T18:00Z","v":349},{"t":"2019-04-09T00:00Z","v":330},{"t":"2019-04-09T06:00Z","v":333},{"t":"2019-04-09T09:00Z","v":384},{"t":"2019-04-09T12:00Z","v":403},{"t":"2019-04-10T00:00Z","v":367},{"t":"2019-04-10T06:00Z","v":440},{"t":"2019-04-10T12:00Z","v":411},{"t":"2019-04-11T00:00Z","v":411},{"t":"2019-04-11T12:00Z","v":411},{"t":"2019-04-10T18:00Z","v":402},{"t":"2019-04-11T18:00Z","v":402},{"t":"2019-04-11T06:00Z","v":434},{"t":"2019-04-12T00:00Z","v":428},{"t":"2019-04-12T12:00Z","v":428},{"t":"2019-04-12T18:00Z","v":437},{"t":"2019-04-13T06:00Z","v":411},{"t":"2019-04-13T00:00Z","v":454},{"t":"2019-04-13T18:00Z","v":450},{"t":"2019-04-13T12:00Z","v":470},{"t":"2019-04-15T18:00Z","v":457},{"t":"2019-04-16T06:00Z","v":415},{"t":"2019-04-16T12:00Z","v":311},{"t":"2019-04-17T12:00Z","v":364},{"t":"2019-04-18T00:00Z","v":470},{"t":"2019-04-18T18:00Z","v":466},{"t":"2019-04-19T00:00Z","v":426},{"t":"2019-04-20T00:00Z","v":321},{"t":"2019-04-21T00:00Z","v":441},{"t":"2019-04-21T06:00Z","v":367},{"t":"2019-04-22T00:00Z","v":391},{"t":"2019-04-22T12:00Z","v":353},{"t":"2019-04-22T18:00Z","v":317},{"t":"2019-04-23T00:00Z","v":388},
{"t":"2019-04-14T00:00Z","v":481},{"t":"2019-04-14T12:00Z","v":481},{"t":"2019-04-15T00:00Z","v":481},{"t":"2019-04-15T12:00Z","v":481},{"t":"2019-04-16T00:00Z","v":481},{"t":"2019-04-16T12:00Z","v":481},{"t":"2019-04-17T00:00Z","v":481},{"t":"2019-04-17T12:00Z","v":481},{"t":"2019-04-18T00:00Z","v":481},{"t":"2019-04-18T12:00Z","v":481},{"t":"2019-04-19T00:00Z","v":481},{"t":"2019-04-19T12:00Z","v":481},{"t":"2019-04-20T00:00Z","v":481},{"t":"2019-04-20T12:00Z","v":481},{"t":"2019-04-21T00:00Z","v":481},{"t":"2019-04-21T12:00Z","v":481},{"t":"2019-04-22T00:00Z","v":481},{"t":"2019-04-22T12:00Z","v":481},{"t":"2019-04-23T00:00Z","v":481},{"t":"2019-04-23T12:00Z","v":481},{"t":"2019-04-24T00:00Z","v":481},{"t":"2019-04-24T12:00Z","v":481},{"t":"2019-04-25T00:00Z","v":481},{"t":"2019-04-25T12:00Z","v":481},{"t":"2019-04-27T00:00Z","v":481},{"t":"2019-04-27T12:00Z","v":481},{"t":"2019-04-28T00:00Z","v":481},{"t":"2019-04-28T12:00Z","v":481},{"t":"2019-04-29T00:00Z","v":481},{"t":"2019-04-29T12:00Z","v":481},{"t":"2019-04-30T00:00Z","v":481},{"t":"2019-04-30T12:00Z","v":481},{"t":"2019-05-01T00:00Z","v":481},{"t":"2019-05-01T12:00Z","v":481},{"t":"2019-05-02T00:00Z","v":481},{"t":"2019-05-02T12:00Z","v":481},{"t":"2019-05-03T00:00Z","v":481},{"t":"2019-05-03T12:00Z","v":481},{"t":"2019-05-04T00:00Z","v":481},{"t":"2019-05-04T12:00Z","v":481},{"t":"2019-05-05T00:00Z","v":481},{"t":"2019-05-05T12:00Z","v":481},{"t":"2019-05-06T00:00Z","v":481},{"t":"2019-05-06T12:00Z","v":481},{"t":"2019-05-07T00:00Z","v":481},{"t":"2019-05-07T12:00Z","v":481},{"t":"2019-05-08T00:00Z","v":481},{"t":"2019-05-08T12:00Z","v":481},{"t":"2019-05-09T00:00Z","v":481},{"t":"2019-05-09T12:00Z","v":481},{"t":"2019-05-10T00:00Z","v":481},{"t":"2019-05-10T12:00Z","v":481},{"t":"2019-05-11T00:00Z","v":481},{"t":"2019-05-11T12:00Z","v":481},{"t":"2019-05-12T00:00Z","v":481},{"t":"2019-05-12T12:00Z","v":481},{"t":"2019-05-13T00:00Z","v":481},{"t":"2019-05-13T12:00Z","v":481},
{"t":"2019-04-23T00:00Z","v":476},{"t":"2019-04-25T18:00Z","v":473},{"t":"2019-04-26T18:00Z","v":469},{"t":"2019-04-27T12:00Z","v":467},{"t":"2019-04-27T18:00Z","v":465},{"t":"2019-04-27T06:00Z","v":441},{"t":"2019-05-08T18:00Z","v":473},{"t":"2019-05-13T00:00Z","v":473},{"t":"2019-05-13T06:00Z","v":479},{"t":"2019-05-13T18:00Z","v":477},{"t":"2019-05-14T06:00Z","v":474},{"t":"2019-05-14T18:00Z","v":472},{"t":"2019-05-15T12:00Z","v":479},{"t":"2019-05-20T18:00Z","v":474},{"t":"2019-05-15T06:00Z","v":465},{"t":"2019-05-16T00:00Z","v":463},{"t":"2019-05-16T12:00Z","v":457},{"t":"2019-05-17T06:00Z","v":455},
{"t":"2019-05-15T06:00Z","v":434},{"t":"2019-05-16T18:00Z","v":441},{"t":"2019-05-17T12:00Z","v":435},{"t":"2019-05-18T00:00Z","v":433},{"t":"2019-05-18T12:00Z","v":428},{"t":"2019-05-18T18:00Z","v":435},{"t":"2019-05-19T06:00Z","v":431},{"t":"2019-05-20T00:00Z","v":431},{"t":"2019-05-20T12:00Z","v":428},{"t":"2019-05-21T00:00Z","v":423},{"t":"2019-05-21T18:00Z","v":429},{"t":"2019-05-22T12:00Z","v":428},{"t":"2019-05-22T18:00Z","v":427},{"t":"2019-05-23T12:00Z","v":425},{"t":"2019-05-23T18:00Z","v":427},{"t":"2019-05-24T12:00Z","v":438},{"t":"2019-05-25T00:00Z","v":434},{"t":"2019-05-25T12:00Z","v":437},{"t":"2019-05-26T06:00Z","v":435},{"t":"2019-05-26T18:00Z","v":433},{"t":"2019-05-27T12:00Z","v":429},{"t":"2019-05-28T00:00Z","v":429},{"t":"2019-05-28T12:00Z","v":412},{"t":"2019-05-28T18:00Z","v":401},{"t":"2019-05-29T06:00Z","v":414},{"t":"2019-05-29T12:00Z","v":419},{"t":"2019-05-30T00:00Z","v":420},{"t":"2019-05-30T18:00Z","v":424},{"t":"2019-05-31T06:00Z","v":427},{"t":"2019-05-31T18:00Z","v":430},{"t":"2019-06-01T12:00Z","v":435},{"t":"2019-06-01T18:00Z","v":431},{"t":"2019-06-02T12:00Z","v":432},{"t":"2019-06-03T00:00Z","v":435},{"t":"2019-06-03T12:00Z","v":429},{"t":"2019-06-04T06:00Z","v":424},{"t":"2019-06-05T00:00Z","v":424},{"t":"2019-06-05T18:00Z","v":408},{"t":"2019-06-06T00:00Z","v":401},{"t":"2019-06-07T00:00Z","v":398},{"t":"2019-06-06T18:00Z","v":379},{"t":"2019-06-07T18:00Z","v":380},{"t":"2019-06-08T06:00Z","v":379},{"t":"2019-06-08T12:00Z","v":367},{"t":"2019-06-07T06:00Z","v":363},{"t":"2019-06-09T00:00Z","v":375},{"t":"2019-06-09T12:00Z","v":369},{"t":"2019-06-10T00:00Z","v":363},{"t":"2019-06-10T12:00Z","v":359},{"t":"2019-06-11T06:00Z","v":375},{"t":"2019-06-11T18:00Z","v":352},{"t":"2019-06-12T12:00Z","v":365},{"t":"2019-06-13T00:00Z","v":337},{"t":"2019-06-13T12:00Z","v":334},{"t":"2019-06-13T06:00Z","v":352},{"t":"2019-06-14T06:00Z","v":350},{"t":"2019-06-14T18:00Z","v":303},{"t":"2019-06-15T12:00Z","v":303},{"t":"2019-06-16T00:00Z","v":295},{"t":"2019-06-16T18:00Z","v":302},{"t":"2019-06-17T06:00Z","v":309},{"t":"2019-06-18T00:00Z","v":307},{"t":"2019-06-18T12:00Z","v":287},
{"t":"2019-04-25T06:00Z","v":374},{"t":"2019-04-28T18:00Z","v":376},{"t":"2019-04-24T00:00Z","v":351},{"t":"2019-04-25T18:00Z","v":350},{"t":"2019-05-07T12:00Z","v":397},{"t":"2019-05-24T00:00Z","v":370},{"t":"2019-05-29T12:00Z","v":346},{"t":"2019-04-24T18:00Z","v":291},{"t":"2019-04-26T06:00Z","v":269},{"t":"2019-04-26T18:00Z","v":258},{"t":"2019-04-27T12:00Z","v":261},{"t":"2019-04-28T18:00Z","v":233},{"t":"2019-04-29T18:00Z","v":251},{"t":"2019-04-30T06:00Z","v":273},{"t":"2019-05-01T06:00Z","v":296},{"t":"2019-05-01T18:00Z","v":259},{"t":"2019-05-02T12:00Z","v":303},{"t":"2019-05-03T00:00Z","v":312},{"t":"2019-05-02T18:00Z","v":318},{"t":"2019-05-04T00:00Z","v":303},{"t":"2019-05-03T18:00Z","v":252},{"t":"2019-05-04T18:00Z","v":269},{"t":"2019-05-05T18:00Z","v":218},{"t":"2019-05-06T12:00Z","v":188},{"t":"2019-05-07T06:00Z","v":245},{"t":"2019-05-08T06:00Z","v":229},{"t":"2019-05-09T06:00Z","v":197},{"t":"2019-05-10T00:00Z","v":220},{"t":"2019-05-09T18:00Z","v":302},{"t":"2019-05-10T18:00Z","v":275},{"t":"2019-05-11T06:00Z","v":267},{"t":"2019-05-11T12:00Z","v":320},{"t":"2019-05-12T12:00Z","v":217},{"t":"2019-05-13T18:00Z","v":211},{"t":"2019-05-14T12:00Z","v":195},{"t":"2019-05-15T18:00Z","v":174},{"t":"2019-05-16T12:00Z","v":183},{"t":"2019-05-17T18:00Z","v":296},{"t":"2019-05-18T12:00Z","v":311},{"t":"2019-05-18T18:00Z","v":185},{"t":"2019-05-19T12:00Z","v":213},{"t":"2019-05-20T06:00Z","v":148},{"t":"2019-05-21T06:00Z","v":191},{"t":"2019-05-21T12:00Z","v":236},{"t":"2019-05-22T06:00Z","v":196},{"t":"2019-05-22T12:00Z","v":253},{"t":"2019-05-23T00:00Z","v":164},{"t":"2019-05-24T00:00Z","v":197},{"t":"2019-05-24T18:00Z","v":217},{"t":"2019-05-25T00:00Z","v":158},{"t":"2019-05-25T12:00Z","v":237},{"t":"2019-05-26T06:00Z","v":134},{"t":"2019-05-26T18:00Z","v":251},{"t":"2019-05-27T12:00Z","v":142},{"t":"2019-05-28T00:00Z","v":262},{"t":"2019-05-28T12:00Z","v":164},{"t":"2019-05-28T18:00Z","v":163},{"t":"2019-05-30T12:00Z","v":195},{"t":"2019-05-31T00:00Z","v":193},{"t":"2019-06-01T06:00Z","v":149},{"t":"2019-06-01T12:00Z","v":291},{"t":"2019-06-02T06:00Z","v":163},{"t":"2019-06-03T00:00Z","v":161},{"t":"2019-06-03T06:00Z","v":188},{"t":"2019-06-03T18:00Z","v":228},{"t":"2019-06-04T06:00Z","v":190},{"t":"2019-06-04T18:00Z","v":303},{"t":"2019-06-05T06:00Z","v":153},{"t":"2019-06-05T18:00Z","v":206},{"t":"2019-06-06T12:00Z","v":195},{"t":"2019-06-07T12:00Z","v":201},{"t":"2019-06-08T06:00Z","v":189},{"t":"2019-06-08T12:00Z","v":123},{"t":"2019-06-09T00:00Z","v":260},{"t":"2019-06-09T06:00Z","v":135},{"t":"2019-06-10T00:00Z","v":142},{"t":"2019-06-10T18:00Z","v":251},{"t":"2019-06-11T06:00Z","v":106},{"t":"2019-06-11T18:00Z","v":261},{"t":"2019-06-12T00:00Z","v":130},{"t":"2019-06-13T00:00Z","v":107},{"t":"2019-06-14T00:00Z","v":154},{"t":"2019-06-14T12:00Z","v":260},{"t":"2019-06-14T18:00Z","v":108},{"t":"2019-06-15T00:00Z","v":188},{"t":"2019-06-15T06:00Z","v":202},{"t":"2019-06-15T12:00Z","v":187},{"t":"2019-06-16T06:00Z","v":192},{"t":"2019-06-17T00:00Z","v":161},{"t":"2019-06-17T18:00Z","v":155},{"t":"2019-06-18T06:00Z","v":182},{"t":"2019-04-24T06:00Z","v":203},
{"t":"2019-06-17T12:00Z","v":305},{"t":"2019-06-18T06:00Z","v":303},{"t":"2019-06-18T18:00Z","v":289},{"t":"2019-06-19T12:00Z","v":289},{"t":"2019-06-20T06:00Z","v":285},{"t":"2019-06-20T18:00Z","v":282},{"t":"2019-06-19T00:00Z","v":273},{"t":"2019-06-19T18:00Z","v":277},{"t":"2019-06-21T00:00Z","v":277},{"t":"2019-06-21T06:00Z","v":270},{"t":"2019-06-21T18:00Z","v":264},{"t":"2019-06-22T06:00Z","v":259},{"t":"2019-06-22T18:00Z","v":253},{"t":"2019-06-23T06:00Z","v":250},{"t":"2019-06-23T12:00Z","v":249},{"t":"2019-06-24T00:00Z","v":253},{"t":"2019-06-24T12:00Z","v":248},{"t":"2019-06-25T00:00Z","v":244},{"t":"2019-06-25T12:00Z","v":242},{"t":"2019-06-26T00:00Z","v":253},{"t":"2019-06-26T12:00Z","v":239},{"t":"2019-06-26T18:00Z","v":240},{"t":"2019-06-27T06:00Z","v":244},{"t":"2019-06-27T18:00Z","v":248},{"t":"2019-06-28T06:00Z","v":247},{"t":"2019-06-28T00:00Z","v":239},{"t":"2019-06-28T18:00Z","v":240},{"t":"2019-06-29T06:00Z","v":238},{"t":"2019-06-29T12:00Z","v":244},{"t":"2019-06-30T00:00Z","v":240},{"t":"2019-06-30T06:00Z","v":243},{"t":"2019-06-28T18:00Z","v":230},{"t":"2019-06-29T06:00Z","v":228},{"t":"2019-06-29T18:00Z","v":227},{"t":"2019-06-30T12:00Z","v":232},{"t":"2019-06-30T18:00Z","v":225},{"t":"2019-07-01T06:00Z","v":221},{"t":"2019-07-01T12:00Z","v":217},{"t":"2019-07-01T18:00Z","v":232},{"t":"2019-07-02T06:00Z","v":221},{"t":"2019-07-02T00:00Z","v":239},{"t":"2019-07-02T18:00Z","v":214},{"t":"2019-07-03T00:00Z","v":210},{"t":"2019-07-03T12:00Z","v":206},{"t":"2019-07-03T18:00Z","v":223},{"t":"2019-07-04T00:00Z","v":205},{"t":"2019-07-04T12:00Z","v":199},{"t":"2019-07-05T00:00Z","v":198},{"t":"2019-07-05T18:00Z","v":198},{"t":"2019-07-06T00:00Z","v":178},{"t":"2019-07-05T12:00Z","v":174},{"t":"2019-07-06T18:00Z","v":157},{"t":"2019-07-07T06:00Z","v":144},{"t":"2019-07-07T18:00Z","v":142},{"t":"2019-07-08T00:00Z","v":133},{"t":"2019-07-08T06:00Z","v":129},{"t":"2019-07-08T12:00Z","v":120},{"t":"2019-07-09T00:00Z","v":122},{"t":"2019-07-09T06:00Z","v":111},{"t":"2019-07-09T12:00Z","v":106},{"t":"2019-07-09T18:00Z","v":105},{"t":"2019-07-10T06:00Z","v":96},{"t":"2019-07-10T12:00Z","v":83},{"t":"2019-07-10T18:00Z","v":79},{"t":"2019-07-11T00:00Z","v":73},{"t":"2019-07-11T12:00Z","v":75},{"t":"2019-07-12T00:00Z","v":80},{"t":"2019-07-12T06:00Z","v":69},{"t":"2019-07-12T12:00Z","v":64},{"t":"2019-07-12T18:00Z","v":72},{"t":"2019-07-13T00:00Z","v":77},{"t":"2019-07-13T06:00Z","v":59},{"t":"2019-07-13T18:00Z","v":56},{"t":"2019-07-14T00:00Z","v":66},{"t":"2019-07-14T06:00Z","v":62},{"t":"2019-07-14T18:00Z","v":57},{"t":"2019-07-15T06:00Z","v":59},{"t":"2019-07-15T12:00Z","v":52},{"t":"2019-07-15T18:00Z","v":54},{"t":"2019-07-16T06:00Z","v":49},{"t":"2019-07-16T12:00Z","v":53},{"t":"2019-07-16T18:00Z","v":49},{"t":"2019-07-17T00:00Z","v":42},{"t":"2019-07-17T12:00Z","v":47},{"t":"2019-07-17T18:00Z","v":39},{"t":"2019-07-18T06:00Z","v":45},{"t":"2019-07-18T18:00Z","v":38},{"t":"2019-07-19T06:00Z","v":34},{"t":"2019-07-19T18:00Z","v":39},{"t":"2019-07-20T00:00Z","v":30},{"t":"2019-07-20T12:00Z","v":36},{"t":"2019-07-21T00:00Z","v":30},{"t":"2019-07-21T06:00Z","v":24},{"t":"2019-07-21T12:00Z","v":21},{"t":"2019-07-22T00:00Z","v":26},{"t":"2019-07-22T12:00Z","v":17},{"t":"2019-07-23T00:00Z","v":14},{"t":"2019-07-23T06:00Z","v":11},{"t":"2019-07-23T18:00Z","v":8},{"t":"2019-07-24T06:00Z","v":6},{"t":"2019-07-24T12:00Z","v":8},{"t":"2019-07-25T00:00Z","v":13},{"t":"2019-07-25T12:00Z","v":16},{"t":"2019-07-25T18:00Z","v":6},{"t":"2019-07-26T06:00Z","v":8},{"t":"2019-07-26T18:00Z","v":11},{"t":"2019-07-27T06:00Z","v":9},{"t":"2019-07-27T18:00Z","v":6},{"t":"2019-07-28T06:00Z","v":1},{"t":"2019-07-28T18:00Z","v":3},{"t":"2019-07-29T00:00Z","v":8},{"t":"2019-07-29T12:00Z","v":2},{"t":"2019-07-30T00:00Z","v":6},{"t":"2019-07-30T12:00Z","v":8},{"t":"2019-07-30T18:00Z","v":4},{"t":"2019-07-31T06:00Z","v":6},{"t":"2019-07-31T18:00Z","v":8},{"t":"2019-08-01T06:00Z","v":3},{"t":"2019-08-01T18:00Z","v":5},{"t":"2019-08-02T00:00Z","v":8},{"t":"2019-08-02T12:00Z","v":4},{"t":"2019-08-03T00:00Z","v":3},{"t":"2019-08-03T12:00Z","v":1},
{"t":"2019-06-19T00:00Z","v":229},{"t":"2019-06-20T12:00Z","v":225},{"t":"2019-06-22T00:00Z","v":219},{"t":"2019-06-22T18:00Z","v":197},{"t":"2019-06-18T12:00Z","v":183},{"t":"2019-06-17T12:00Z","v":161},{"t":"2019-06-18T00:00Z","v":154},{"t":"2019-06-19T12:00Z","v":156},{"t":"2019-06-21T00:00Z","v":105},{"t":"2019-06-23T12:00Z","v":107},{"t":"2019-06-24T00:00Z","v":126},{"t":"2019-06-24T18:00Z","v":127},{"t":"2019-06-25T00:00Z","v":124},{"t":"2019-06-25T18:00Z","v":103},{"t":"2019-06-26T12:00Z","v":166},{"t":"2019-06-27T00:00Z","v":129},{"t":"2019-07-02T06:00Z","v":152},{"t":"2019-07-03T12:00Z","v":164},{"t":"2019-07-16T00:00Z","v":36},
{"t":"2019-08-03T18:00Z","v":1},{"t":"2019-08-04T00:00Z","v":1},{"t":"2019-08-04T12:00Z","v":1},{"t":"2019-08-05T00:00Z","v":1},{"t":"2019-08-05T12:00Z","v":1},{"t":"2019-08-06T00:00Z","v":1},{"t":"2019-08-06T12:00Z","v":1},{"t":"2019-08-07T00:00Z","v":1},{"t":"2019-08-07T12:00Z","v":1},{"t":"2019-08-08T00:00Z","v":1},{"t":"2019-08-08T12:00Z","v":1},{"t":"2019-08-08T18:00Z","v":2},{"t":"2019-08-09T00:00Z","v":1},{"t":"2019-08-09T12:00Z","v":1},{"t":"2019-08-10T00:00Z","v":1},{"t":"2019-08-10T12:00Z","v":1},{"t":"2019-08-11T00:00Z","v":1},{"t":"2019-08-11T12:00Z","v":1},{"t":"2019-08-12T00:00Z","v":1},{"t":"2019-08-12T12:00Z","v":1},{"t":"2019-08-13T00:00Z","v":1},{"t":"2019-08-13T12:00Z","v":1},{"t":"2019-08-14T00:00Z","v":1},{"t":"2019-08-14T12:00Z","v":1},{"t":"2019-08-15T00:00Z","v":1},{"t":"2019-08-15T12:00Z","v":1},{"t":"2019-08-16T00:00Z","v":1},{"t":"2019-08-16T12:00Z","v":1},{"t":"2019-08-17T00:00Z","v":1},{"t":"2019-08-17T12:00Z","v":1},{"t":"2019-08-18T00:00Z","v":1},{"t":"2019-08-18T12:00Z","v":1},{"t":"2019-08-19T00:00Z","v":1},{"t":"2019-08-19T12:00Z","v":1},{"t":"2019-08-20T00:00Z","v":1},{"t":"2019-08-20T12:00Z","v":1},{"t":"2019-08-21T00:00Z","v":1},{"t":"2019-08-21T12:00Z","v":1},{"t":"2019-08-22T00:00Z","v":1},{"t":"2019-08-22T12:00Z","v":1},{"t":"2019-08-23T00:00Z","v":1},{"t":"2019-08-23T12:00Z","v":1},{"t":"2019-08-24T00:00Z","v":1},{"t":"2019-08-24T12:00Z","v":1},{"t":"2019-08-25T00:00Z","v":1},{"t":"2019-08-25T12:00Z","v":1},{"t":"2019-08-26T00:00Z","v":1},
{"t":"2019-08-28T06:00Z","v":69},{"t":"2019-08-28T18:00Z","v":84},{"t":"2019-08-28T18:00Z","v":41},{"t":"2019-08-29T00:00Z","v":60},{"t":"2019-08-29T06:00Z","v":58},{"t":"2019-08-29T18:00Z","v":90},{"t":"2019-08-30T00:00Z","v":62},{"t":"2019-08-30T06:00Z","v":84},{"t":"2019-08-30T18:00Z","v":91},{"t":"2019-08-31T06:00Z","v":60},{"t":"2019-08-31T12:00Z","v":105},{"t":"2019-08-31T18:00Z","v":86},{"t":"2019-09-01T00:00Z","v":101},{"t":"2019-09-01T06:00Z","v":116},{"t":"2019-09-02T12:00Z","v":68},{"t":"2019-09-02T18:00Z","v":56},{"t":"2019-09-03T00:00Z","v":66},{"t":"2019-09-03T00:00Z","v":95},{"t":"2019-09-03T06:00Z","v":80},{"t":"2019-09-03T18:00Z","v":69},{"t":"2019-09-04T06:00Z","v":71},{"t":"2019-09-04T12:00Z","v":83},{"t":"2019-09-04T18:00Z","v":79},{"t":"2019-09-05T00:00Z","v":46},{"t":"2019-09-11T12:00Z","v":40},{"t":"2019-09-12T06:00Z","v":57},{"t":"2019-09-12T18:00Z","v":50},{"t":"2019-09-19T12:00Z","v":175},{"t":"2019-09-19T18:00Z","v":201},{"t":"2019-09-19T06:00Z","v":154},{"t":"2019-09-20T12:00Z","v":156},{"t":"2019-09-20T00:00Z","v":139},{"t":"2019-09-20T18:00Z","v":98},{"t":"2019-09-21T00:00Z","v":46},{"t":"2019-09-22T06:00Z","v":27},{"t":"2019-09-22T18:00Z","v":0.5},{"t":"2019-09-23T00:00Z","v":9},{"t":"2019-09-23T12:00Z","v":14},{"t":"2019-09-23T06:00Z","v":6},{"t":"2019-09-24T00:00Z","v":8},{"t":"2019-09-25T06:00Z","v":23},{"t":"2019-09-25T18:00Z","v":27},{"t":"2019-09-26T00:00Z","v":28},{"t":"2019-09-27T06:00Z","v":20},{"t":"2019-09-27T12:00Z","v":51},{"t":"2019-09-27T18:00Z","v":49},{"t":"2019-09-28T00:00Z","v":38},{"t":"2019-09-28T06:00Z","v":46},{"t":"2019-09-30T12:00Z","v":62},{"t":"2019-09-30T18:00Z","v":47},{"t":"2019-10-01T00:00Z","v":106},{"t":"2019-10-01T00:00Z","v":26},{"t":"2019-10-01T12:00Z","v":34},{"t":"2019-10-01T18:00Z","v":36},{"t":"2019-10-02T06:00Z","v":36},{"t":"2019-10-02T00:00Z","v":26},{"t":"2019-10-02T06:00Z","v":21},{"t":"2019-10-04T00:00Z","v":0.5},{"t":"2019-10-04T00:00Z","v":38},{"t":"2019-10-04T12:00Z","v":43},{"t":"2019-10-04T18:00Z","v":22},{"t":"2019-10-05T12:00Z","v":28},{"t":"2019-10-05T18:00Z","v":22},{"t":"2019-10-06T00:00Z","v":22},{"t":"2019-10-05T18:00Z","v":0.5},
{"t":"2019-10-13T12:00Z","v":1},{"t":"2019-10-14T00:00Z","v":1},{"t":"2019-10-14T12:00Z","v":1},{"t":"2019-10-15T00:00Z","v":1},{"t":"2019-10-15T18:00Z","v":1},{"t":"2019-10-16T06:00Z","v":1},{"t":"2019-10-16T12:00Z","v":23},{"t":"2019-10-16T18:00Z","v":1},{"t":"2019-10-17T06:00Z","v":1},{"t":"2019-10-17T18:00Z","v":1},{"t":"2019-10-18T06:00Z","v":1},{"t":"2019-10-18T18:00Z","v":1},{"t":"2019-10-19T06:00Z","v":1},{"t":"2019-10-19T18:00Z","v":1},{"t":"2019-10-20T06:00Z","v":1},{"t":"2019-10-20T18:00Z","v":1},{"t":"2019-10-21T12:00Z","v":1},{"t":"2019-10-22T00:00Z","v":1},{"t":"2019-10-22T12:00Z","v":1},{"t":"2019-10-22T12:00Z","v":22},{"t":"2019-10-23T00:00Z","v":1},{"t":"2019-10-23T12:00Z","v":1},{"t":"2019-10-24T00:00Z","v":1},{"t":"2019-10-24T12:00Z","v":1},{"t":"2019-10-25T00:00Z","v":1},{"t":"2019-10-25T12:00Z","v":1},{"t":"2019-10-26T00:00Z","v":1},{"t":"2019-10-26T12:00Z","v":1},{"t":"2019-10-27T00:00Z","v":1},{"t":"2019-10-27T12:00Z","v":1},{"t":"2019-10-28T00:00Z","v":1},{"t":"2019-10-28T12:00Z","v":1},{"t":"2019-10-29T06:00Z","v":1},{"t":"2019-10-29T18:00Z","v":1},{"t":"2019-10-30T06:00Z","v":1},{"t":"2019-11-01T18:00Z","v":1},{"t":"2019-11-02T06:00Z","v":1},{"t":"2019-11-02T12:00Z","v":2},{"t":"2019-11-02T18:00Z","v":1},{"t":"2019-11-03T06:00Z","v":1},{"t":"2019-11-04T18:00Z","v":1},{"t":"2019-11-05T06:00Z","v":1},{"t":"2019-11-05T18:00Z","v":1}
]
},
"encoding": {
"x": {"field": "t", "type": "temporal",
 "scale": {"type": "utc", "domain": [{"year": 2018, "month": 12, "date": 28, "hours": 19, "utc": true}, {"year": 2019, "month": 12, "date": 4, "hours": 5, "utc": true}]},
 "axis": {"format": "%d/%m/%Y", "tickCount": {"interval": "month", "step": 1}, "labelExpr": "utcmonth(datum.value) == 11 ? '' : datum.label", "labelAngle": 45, "labelAlign": "left", "labelBaseline": "middle", "labelColor": "#666666", "labelFontSize": 13, "labelFont": "Liberation Sans", "labelPadding": 4, "labelOverlap": false, "tickColor": "#ccd6eb", "tickSize": 8, "domainColor": "#ccd6eb", "grid": false,
  "title": "data.coriolis-cotier 20", "titleFontSize": 8, "titleColor": "#999999", "titleFontWeight": "normal", "titleFont": "Liberation Sans", "titleAlign": "right", "titleAnchor": "end", "titleX": 1268, "titleY": 103, "titleBaseline": "bottom"}},
"y": {"field": "v", "type": "quantitative",
 "scale": {"domain": [0, 550], "nice": false, "zero": true},
 "axis": {"values": [0,50,100,150,200,250,300,350,400,450,500,550], "title": "ntu", "titleX": -26, "titleY": 242, "titleAngle": -90, "titleAlign": "center", "titleBaseline": "middle", "titleColor": "#666666", "titleFontSize": 13, "titleFontWeight": "normal", "titleFont": "Liberation Sans", "labelColor": "#666666", "labelFontSize": 13, "labelFont": "Liberation Sans", "labelPadding": 3, "ticks": false, "domain": false, "grid": true, "gridColor": "#e6e6e6", "gridWidth": 1}}
},
"layer": [
{"data": {"name": "s"}, "mark": {"type": "point", "filled": true, "size": 12, "opacity": 1},
 "encoding": {"color": {"datum": "depth 3.931m", "type": "nominal", "scale": {"domain": ["depth 3.931m", "depth 14.457m"], "range": ["#7cb5ec", "#434348"]},
  "legend": {"title": null, "orient": "none", "legendX": 540, "legendY": 565, "direction": "horizontal", "symbolSize": 12, "symbolType": "circle", "labelFont": "Liberation Sans", "labelFontSize": 13, "labelFontWeight": "bold", "labelColor": "#333333", "labelOffset": 6, "columnPadding": 16, "padding": 0}}}},
{"data": {"name": "d"}, "mark": {"type": "point", "filled": true, "size": 12, "opacity": 1},
 "encoding": {"color": {"datum": "depth 14.457m", "type": "nominal"}}}
],
"config": {"view": {"stroke": null}}
}
